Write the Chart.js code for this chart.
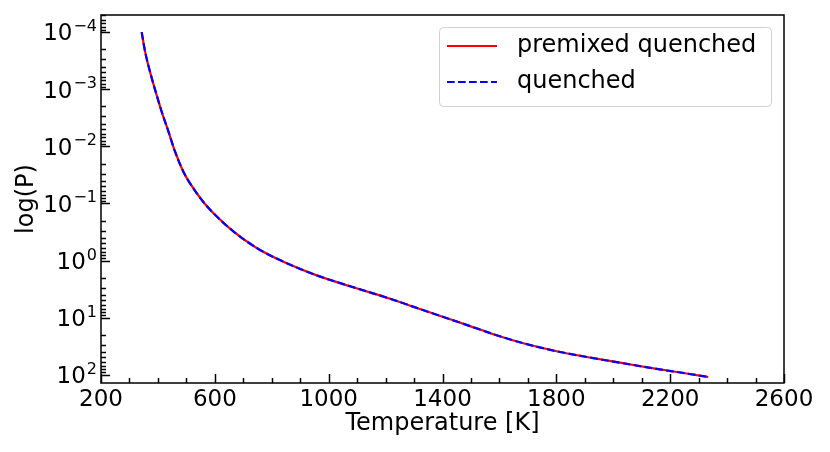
<!DOCTYPE html>
<html>
<head>
<meta charset="utf-8">
<script src="https://cdn.jsdelivr.net/npm/chart.js@4"></script>
<style>
  body { margin: 0; background: #fff; }
</style>
</head>
<body>
<canvas id="myChart" width="830" height="452"></canvas>
<script>
// values
const temperature = [343, 355, 372, 392, 413, 437, 460, 489, 513, 559, 607, 665, 747, 841, 958, 1075, 1216, 1321, 1403, 1497, 1590, 1684, 1801, 1907, 2024, 2141, 2258, 2334];
const pressure = [1.0e-4, 2.19e-4, 4.9e-4, 1.10e-3, 2.45e-3, 5.5e-3, 0.0123, 0.0275, 0.0447, 0.0933, 0.170, 0.309, 0.603, 1.05, 1.82, 2.82, 4.68, 7.08, 9.77, 14.1, 20.4, 28.2, 38.9, 49.0, 61.7, 77.6, 95.5, 110];
const seriesNames = ['premixed quenched', 'quenched'];

const xMajorTicks = [200, 600, 1000, 1400, 1800, 2200, 2600];
const yMajorTicks = [1e-4, 1e-3, 1e-2, 1e-1, 1, 10, 100];
const yTickExponents = ['\u22124', '\u22123', '\u22122', '\u22121', '0', '1', '2'];

Chart.defaults.font.family = '"DejaVu Sans", sans-serif';
Chart.defaults.color = '#000';

const points = temperature.map((t, i) => ({x: t, y: pressure[i]}));

// ticks point inwards, labels with superscripts, frame and legend box
const axisDecor = {
  id: 'axisDecor',
  afterDraw(chart) {
    const ctx = chart.ctx;
    const a = chart.chartArea;
    const xs = chart.scales.x;
    const ys = chart.scales.y;
    ctx.save();
    ctx.strokeStyle = '#000';
    ctx.lineWidth = 1.5;

    xs.ticks.forEach(t => {
      const px = Math.round(xs.getPixelForValue(t.value)) + 0.5;
      const len = t.major ? 9 : 5;
      ctx.beginPath();
      ctx.moveTo(px, a.bottom);
      ctx.lineTo(px, a.bottom - len);
      ctx.stroke();
    });
    ys.ticks.forEach(t => {
      const py = Math.round(ys.getPixelForValue(t.value)) + 0.5;
      const len = t.major ? 9 : 5;
      ctx.beginPath();
      ctx.moveTo(a.left, py);
      ctx.lineTo(a.left + len, py);
      ctx.stroke();
    });

    ctx.strokeRect(a.left, a.top, a.width, a.height);

    // y tick labels: 10 with exponent
    ctx.fillStyle = '#000';
    ctx.textBaseline = 'alphabetic';
    ctx.textAlign = 'left';
    yMajorTicks.forEach((v, i) => {
      const py = ys.getPixelForValue(v);
      const right = a.left - 4;
      ctx.font = '16px "DejaVu Sans"';
      const ew = ctx.measureText(yTickExponents[i]).width;
      ctx.font = '23px "DejaVu Sans"';
      const bw = ctx.measureText('10').width;
      ctx.fillText('10', right - ew - bw - 1, py + 8.3);
      ctx.font = '16px "DejaVu Sans"';
      ctx.fillText(yTickExponents[i], right - ew, py - 1);
    });

    // legend
    const lx = 439.5, ly = 27.5, lw = 332, lh = 79;
    ctx.beginPath();
    ctx.roundRect(lx, ly, lw, lh, 4);
    ctx.fillStyle = 'rgba(255,255,255,0.8)';
    ctx.fill();
    ctx.strokeStyle = '#d0d0d0';
    ctx.lineWidth = 1;
    ctx.stroke();
    chart.data.datasets.forEach((ds, i) => {
      const y = 46 + i * 36;
      ctx.beginPath();
      ctx.strokeStyle = ds.borderColor;
      ctx.lineWidth = ds.borderWidth;
      ctx.setLineDash(ds.borderDash || []);
      ctx.moveTo(447, y);
      ctx.lineTo(497, y);
      ctx.stroke();
      ctx.setLineDash([]);
      ctx.fillStyle = '#000';
      ctx.font = '24px "DejaVu Sans"';
      ctx.textBaseline = 'middle';
      ctx.fillText(ds.label, 517, y);
    });
    ctx.restore();
  }
};

const config = {
  type: 'line',
  data: {
    datasets: [{
      label: seriesNames[0],
      data: points,
      borderColor: 'rgb(255, 0, 0)',
      borderWidth: 2.2,
      pointRadius: 0,
      order: 2,
      cubicInterpolationMode: 'monotone'
    }, {
      label: seriesNames[1],
      data: points,
      borderColor: 'rgb(0, 0, 255)',
      borderWidth: 2.2,
      borderDash: [7.7, 3.3],
      pointRadius: 0,
      order: 1,
      cubicInterpolationMode: 'monotone'
    }]
  },
  options: {
    responsive: false,
    animation: false,
    layout: {padding: {top: 15, right: 46, left: 0, bottom: 0}},
    plugins: {legend: {display: false}, tooltip: {enabled: false}},
    scales: {
      x: {
        type: 'linear',
        min: 200,
        max: 2600,
        grid: {display: false, drawTicks: false},
        border: {display: false},
        afterBuildTicks: scale => {
          const ticks = [];
          for (let v = 200; v <= 2600; v += 100) {
            ticks.push({value: v, major: xMajorTicks.includes(v)});
          }
          scale.ticks = ticks;
        },
        afterFit: scale => { scale.height = 69; },
        ticks: {
          autoSkip: false,
          maxRotation: 0,
          padding: 3,
          font: {size: 23},
          callback: v => xMajorTicks.includes(v) ? String(v) : ''
        },
        title: {
          display: true,
          text: 'Temperature [K]',
          font: {size: 24},
          padding: {top: 0, bottom: 13.6}
        }
      },
      y: {
        type: 'logarithmic',
        reverse: true,
        min: 5e-5,
        max: 140,
        grid: {display: false, drawTicks: false},
        border: {display: false},
        afterBuildTicks: scale => {
          const ticks = [];
          [1e-5].concat(yMajorTicks).forEach(d => {
            for (let k = 1; k <= 9; k++) {
              const v = d * k;
              if (v >= 5e-5 && v <= 140) ticks.push({value: v, major: k === 1});
            }
          });
          scale.ticks = ticks;
        },
        afterFit: scale => { scale.width = 101; },
        ticks: {autoSkip: false, callback: () => ''},
        title: {
          display: true,
          text: 'log(P)',
          font: {size: 24},
          padding: {top: 12.6, bottom: 0}
        }
      }
    }
  },
  plugins: [axisDecor]
};

const myChart = new Chart(document.getElementById('myChart'), config);
</script>
</body>
</html>
